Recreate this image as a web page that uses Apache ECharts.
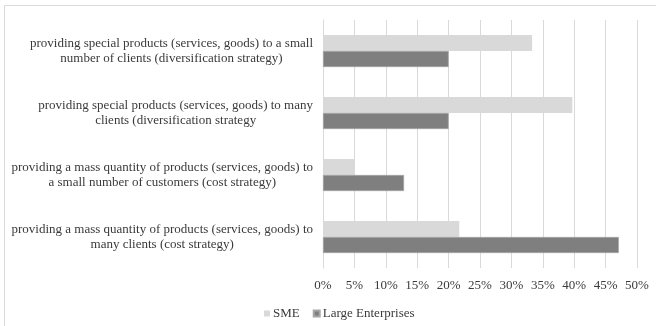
<!DOCTYPE html>
<html>
<head>
<meta charset="utf-8">
<style>
  html, body { margin: 0; padding: 0; background: #ffffff; }
  #chart { width: 656px; height: 326px; }
</style>
<script src="https://cdn.jsdelivr.net/npm/echarts@6/dist/echarts.min.js"></script>
</head>
<body>
<div id="chart"></div>
<script>
// Business strategy categories (top to bottom)
var categories = [
  'providing special products (services, goods) to a small\nnumber of clients (diversification strategy)',
  'providing special products (services, goods) to many\nclients (diversification strategy',
  'providing a mass quantity of products (services, goods) to\na small number of customers (cost strategy)',
  'providing a mass quantity of products (services, goods) to\nmany clients (cost strategy)'
];
var seriesNames = ['SME', 'Large Enterprises'];
var smeValues = [33.3, 39.7, 5.0, 21.7];
var largeValues = [20.0, 20.0, 12.9, 47.1];

var chart = echarts.init(document.getElementById('chart'), null, { renderer: 'canvas' });
var font = 'Liberation Serif, Times New Roman, serif';

chart.setOption({
  backgroundColor: '#ffffff',
  animation: false,
  textStyle: { fontFamily: font },
  graphic: [{
    type: 'rect',
    shape: { x: 4.5, y: 5.5, width: 700, height: 400 },
    style: { fill: 'none', stroke: '#d9d9d9', lineWidth: 1 },
    silent: true
  }],
  legend: {
    data: seriesNames,
    left: 259,
    top: 302,
    icon: 'rect',
    itemWidth: 6,
    itemHeight: 6,
    itemGap: 13,
    textStyle: { fontFamily: font, fontSize: 13, color: '#3a3a3a', padding: [0, 0, 0, -2] }
  },
  grid: { left: 323, right: 19, top: 20, bottom: 58, containLabel: false },
  xAxis: {
    type: 'value',
    min: 0,
    max: 50,
    interval: 5,
    axisLine: { show: false },
    axisTick: { show: false },
    axisLabel: {
      formatter: '{value}%',
      fontFamily: font,
      fontSize: 13,
      color: '#3a3a3a',
      margin: 11
    },
    splitLine: { show: true, lineStyle: { color: '#d9d9d9', width: 1 } }
  },
  yAxis: {
    type: 'category',
    data: categories,
    inverse: true,
    axisTick: { show: false },
    axisLine: { show: true, lineStyle: { color: '#d9d9d9', width: 1 } },
    axisLabel: {
      margin: 10,
      formatter: function (v) {
        return v.split('\n').map(function (s) { return '{c|' + s + '}'; }).join('\n');
      },
      rich: {
        c: { align: 'center', fontFamily: font, fontSize: 13, color: '#3a3a3a', lineHeight: 15 }
      }
    }
  },
  series: [
    {
      name: seriesNames[0],
      type: 'bar',
      data: smeValues,
      barWidth: 16,
      barGap: '0%',
      itemStyle: { color: '#d9d9d9' }
    },
    {
      name: seriesNames[1],
      type: 'bar',
      data: largeValues,
      barWidth: 16,
      barGap: '0%',
      itemStyle: { color: '#7f7f7f', borderColor: '#a6a6a6', borderWidth: 0.6 }
    }
  ]
});
</script>
</body>
</html>
